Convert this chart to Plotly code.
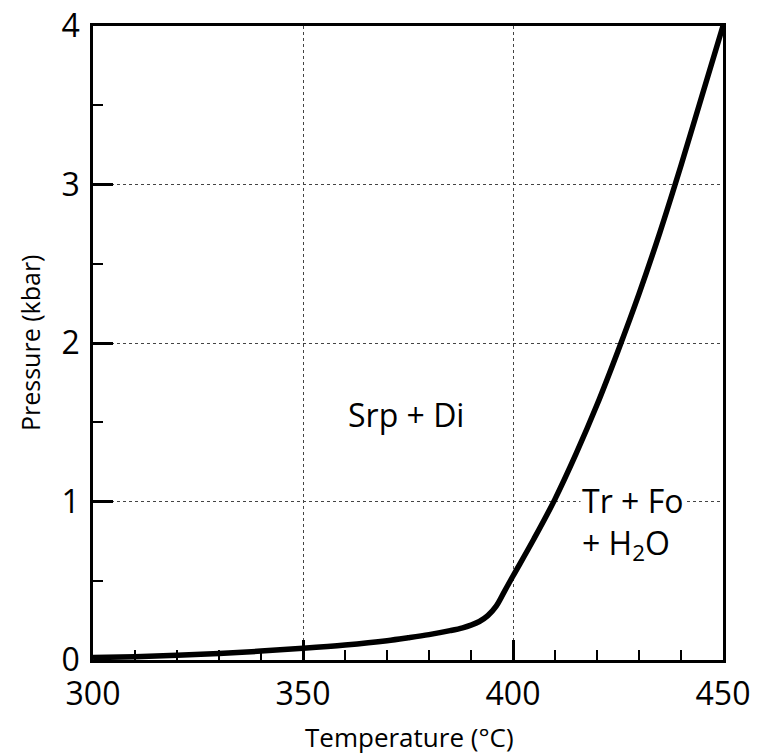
import plotly.graph_objects as go

temperature_c = [300, 310, 320, 330, 340, 350, 360, 370, 375, 380, 385, 388, 390, 392, 394, 396, 398, 400,
                 405, 410, 415, 420, 425, 430, 435, 440, 445, 450]
pressure_kbar = [0.015, 0.021, 0.03, 0.041, 0.056, 0.074, 0.095, 0.122, 0.14, 0.16, 0.185, 0.203, 0.22, 0.243,
                 0.28, 0.34, 0.435, 0.53, 0.765, 1.015, 1.3, 1.61, 1.95, 2.31, 2.7, 3.12, 3.56, 4.0]

x_ticks = [300, 350, 400, 450]
y_ticks = [0, 1, 2, 3, 4]

FONT = "Open Sans"

fig = go.Figure()
fig.add_trace(go.Scatter(
    x=temperature_c, y=pressure_kbar, mode="lines",
    line=dict(color="black", width=5.5, shape="spline", smoothing=1.0),
    hoverinfo="skip", showlegend=False,
))

fig.add_annotation(x=374.5, y=1.55, text="Srp + Di", showarrow=False,
                   font=dict(family=FONT, size=32, color="black"))
fig.add_annotation(x=416.0, y=0.86, text="Tr + Fo<br>+ H<sub>2</sub>O", showarrow=False,
                   xanchor="left", align="left", bgcolor="white",
                   font=dict(family=FONT, size=32, color="black"))

# axis titles placed as paper annotations
fig.add_annotation(xref="paper", yref="paper", x=0.502, y=-0.122, yanchor="middle",
                   text="Temperature (°C)", showarrow=False,
                   font=dict(family=FONT, size=26, color="black"))
fig.add_annotation(xref="paper", yref="paper", x=-0.1, y=0.5, xanchor="center", yanchor="middle",
                   text="Pressure (kbar)", showarrow=False, textangle=-90,
                   font=dict(family=FONT, size=25, color="black"))

axis_common = dict(
    showline=True, linecolor="black", linewidth=2.5, mirror=True,
    ticks="inside", ticklen=20, tickwidth=2.5, tickcolor="black",
    showgrid=True, gridcolor="#444", gridwidth=1, griddash="dot",
    zeroline=False, automargin=False, ticklabeloverflow="allow",
    tickfont=dict(family=FONT, size=32, color="black"),
)

fig.update_xaxes(
    range=[300, 450], tickvals=x_ticks, ticktext=[str(v) for v in x_ticks],
    minor=dict(ticks="inside", ticklen=10, tickwidth=2, tickcolor="black", dtick=10, showgrid=False),
    ticklabelstandoff=4,
    **axis_common,
)
fig.update_yaxes(
    range=[0, 4], tickvals=y_ticks, ticktext=[str(v) for v in y_ticks],
    minor=dict(ticks="inside", ticklen=10, tickwidth=2, tickcolor="black", dtick=0.5, showgrid=False),
    ticklabelstandoff=4,
    **axis_common,
)

# the page body adds an 8px margin, so the figure is shifted 8px right and down
fig.update_layout(
    width=750, height=753,
    margin=dict(l=85, r=35, t=18, b=101, autoexpand=False),
    paper_bgcolor="white", plot_bgcolor="white",
    showlegend=False,
)

fig.write_html("out.html")
